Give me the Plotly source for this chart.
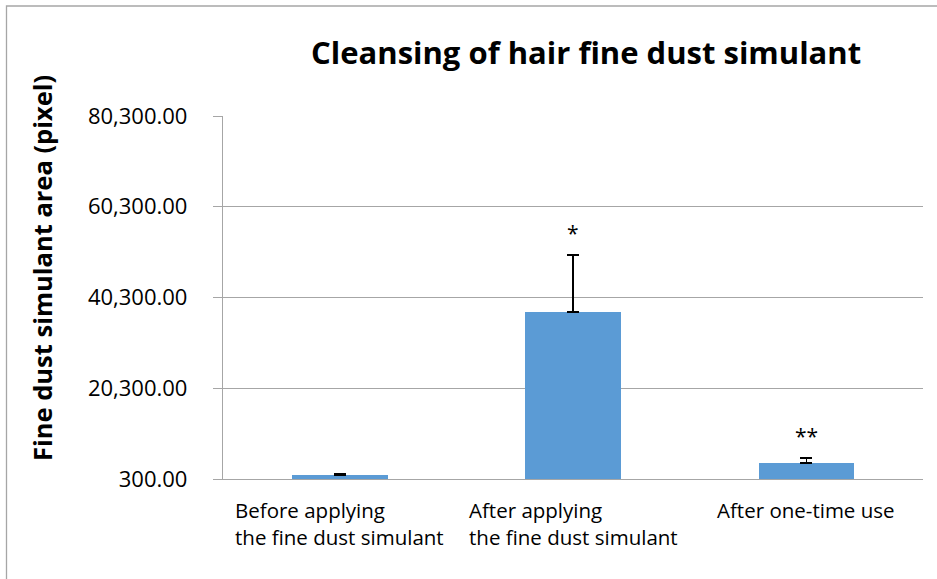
import plotly.graph_objects as go

# Data
categories = ["Before applying<br>the fine dust simulant",
              "After applying<br>the fine dust simulant",
              "After one-time use"]
values = [1100, 37150, 3830]
errors_plus = [300, 12500, 1100]
significance = ["", "*", "**"]
y_ticks = [300, 20300, 40300, 60300, 80300]

BAR_COLOR = "#5B9BD5"
GRID = "#A6A6A6"
FONT = "Open Sans"

W, H = 937, 579
L, R, T, B = 223, 14, 115.7, 99.6

xs = [0, 1, 2]

fig = go.Figure()
fig.add_trace(go.Bar(
    x=xs, y=values, width=0.41,
    marker=dict(color=BAR_COLOR, line=dict(width=0)),
    error_y=dict(type="data", symmetric=False, array=errors_plus,
                 arrayminus=[0, 0, 0], color="black", thickness=1.5, width=6),
    hoverinfo="skip",
))

annotations = []
# Category labels (block centred, lines left-aligned)
for x, c in zip(xs, categories):
    annotations.append(dict(x=x, xref="x", y=-(494 - (H - B)) / (H - T - B), yref="paper",
                            text=c, showarrow=False, align="left", xanchor="center",
                            yanchor="top", font=dict(family=FONT, size=20.5, color="#000000")))
# Significance marks
for x, v, e, s in zip(xs, values, errors_plus, significance):
    if s:
        annotations.append(dict(x=x, xref="x", y=v + e, yref="y", text=s, showarrow=False,
                                xanchor="center", yanchor="bottom", yshift=6,
                                font=dict(family=FONT, size=21, color="#000000")))
# Y axis title
annotations.append(dict(x=(42 - L) / (W - L - R), xref="paper", y=(H - B - 268) / (H - T - B), yref="paper",
                        text="<b>Fine dust simulant area (pixel)</b>", showarrow=False, textangle=-90,
                        xanchor="center", yanchor="middle",
                        font=dict(family=FONT, size=25.5, color="#000000")))
# Chart title
annotations.append(dict(x=(586 - L) / (W - L - R), xref="paper", y=(H - B - 52) / (H - T - B), yref="paper",
                        text="<b>Cleansing of hair fine dust simulant</b>", showarrow=False,
                        xanchor="center", yanchor="middle",
                        font=dict(family=FONT, size=31, color="#000000")))

fig.update_layout(
    width=W, height=H,
    margin=dict(l=L, r=R, t=T, b=B, autoexpand=False),
    paper_bgcolor="white", plot_bgcolor="white",
    showlegend=False,
    bargap=0,
    annotations=annotations,
    shapes=[dict(type="rect", xref="paper", yref="paper",
                 x0=(6.5 - L) / (W - L - R), x1=(W + 20 - L) / (W - L - R),
                 y0=(H - B - (H + 20)) / (H - T - B), y1=(H - B - 5.5) / (H - T - B),
                 line=dict(color="#A6A6A6", width=1.3), fillcolor="rgba(0,0,0,0)", layer="below")],
    xaxis=dict(range=[-0.5, 2.5], showticklabels=False, showgrid=False, zeroline=False,
               showline=True, linecolor=GRID, linewidth=1.3, ticks=""),
    yaxis=dict(range=[300, 80300], tickvals=y_ticks, tickformat=",.2f",
               showgrid=True, gridcolor=GRID, gridwidth=1.3, zeroline=False,
               showline=True, linecolor=GRID, linewidth=1.3, ticks="outside",
               ticklen=9, tickcolor=GRID, tickwidth=1.3, ticklabelstandoff=21,
               tickfont=dict(family=FONT, size=22, color="#000000")),
)

fig.write_html("out.html")
